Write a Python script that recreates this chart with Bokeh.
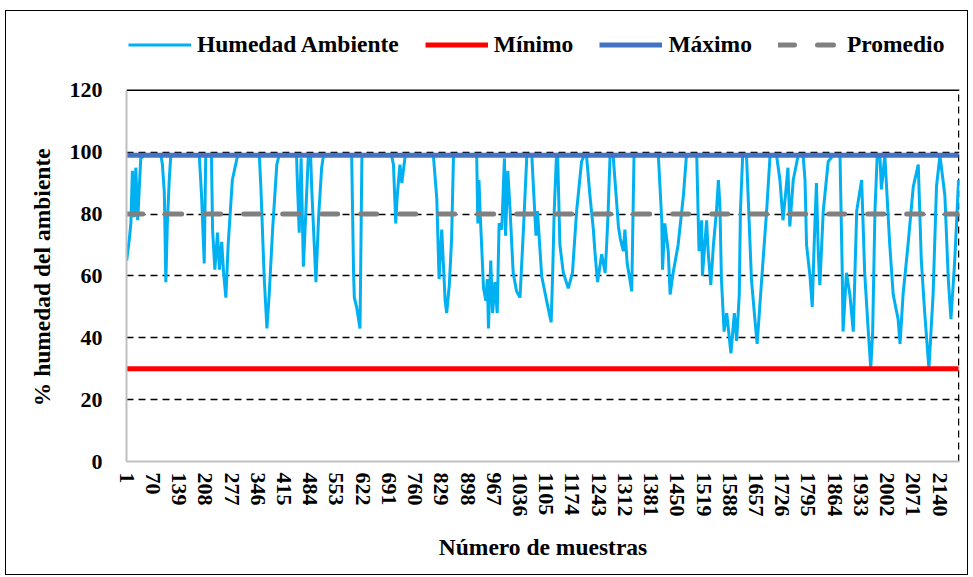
from bokeh.plotting import figure
from bokeh.models import (Range1d, FixedTicker, Span, Legend, LegendItem)
from bokeh.embed import file_html
from bokeh.resources import INLINE

# ---- data ----
n_samples = 2190
sample = [1, 8, 12, 16, 21, 25, 30, 38, 47, 91, 95, 100, 104, 108, 113, 117,
          192, 198, 205, 209, 224, 227, 233, 240, 245, 251, 256, 262, 268, 279, 293,
          350, 354, 363, 370, 376, 385, 396, 402, 448, 450, 455, 460, 466, 479, 485,
          488, 499, 506, 514, 519, 593, 598, 600, 606, 615, 620, 698, 703, 709, 713,
          720, 725, 734, 808, 817, 823, 830, 839, 843, 850, 856, 861, 922, 925, 928,
          931, 940, 946, 950, 953, 959, 964, 970, 976, 981, 988, 995, 998, 1004, 1010,
          1018, 1027, 1036, 1045, 1054, 1067, 1078, 1082, 1093, 1106, 1118, 1122, 1126,
          1132, 1135, 1141, 1150, 1163, 1174, 1185, 1198, 1205, 1211, 1220, 1229, 1233,
          1240, 1251, 1260, 1264, 1268, 1273, 1281, 1295, 1300, 1308, 1312, 1318, 1325,
          1330, 1336, 1400, 1409, 1411, 1417, 1426, 1431, 1439, 1452, 1466, 1474, 1501,
          1507, 1514, 1516, 1527, 1531, 1538, 1545, 1553, 1558, 1562, 1566, 1573, 1580,
          1591, 1600, 1606, 1613, 1616, 1622, 1632, 1645, 1654, 1660, 1672, 1685, 1694,
          1711, 1720, 1728, 1736, 1741, 1746, 1755, 1768, 1781, 1786, 1790, 1799, 1805,
          1810, 1816, 1821, 1825, 1834, 1847, 1860, 1878, 1884, 1886, 1895, 1904, 1913,
          1922, 1935, 1943, 1952, 1959, 1964, 1970, 1976, 1983, 1987, 1996, 2009, 2018,
          2031, 2036, 2044, 2057, 2071, 2084, 2092, 2101, 2112, 2123, 2132, 2141, 2154,
          2163, 2170, 2180, 2190]
humedad = [65, 72, 77, 94, 79, 95, 78, 98, 99, 99, 96, 87, 58, 77, 91, 99,
           99, 86, 64, 99, 99, 75, 62, 74, 62, 71, 61, 53, 70, 91, 99,
           99, 89, 59, 43, 54, 75, 96, 99, 99, 91, 74, 98, 63, 99, 99,
           88, 58, 79, 95, 99, 99, 61, 53, 50, 43, 99, 99, 96, 77, 86,
           96, 90, 99, 99, 85, 59, 75, 52, 48, 57, 72, 99, 99, 77, 91,
           81, 56, 52, 59, 43, 65, 48, 58, 48, 77, 75, 98, 73, 94, 81,
           61, 55, 53, 75, 99, 99, 73, 81, 60, 52, 45, 61, 81,
           99, 99, 70, 61, 56, 61, 81, 97, 99, 99, 86, 75, 68,
           58, 67, 61, 70, 81, 99, 99, 76, 72, 68, 75, 64, 59,
           55, 99, 99, 78, 62, 77, 68, 54, 61, 70, 86, 99, 99,
           68, 78, 60, 78, 68, 57, 70, 81, 91, 83, 59, 42, 48,
           35, 48, 39, 54, 81, 99, 99, 59, 46, 38, 59, 81, 99,
           99, 91, 78, 88, 95, 76, 91, 99, 99, 91, 70, 60, 50,
           70, 90, 67, 57, 81, 97, 99, 99, 61, 42, 61, 54, 42,
           81, 91, 61, 43, 30, 42, 81, 99, 99, 88, 99, 70, 54,
           46, 38, 54, 70, 89, 96, 65, 48, 30, 54, 89, 99, 86,
           59, 46, 65, 91]
minimo = 30
maximo = 99
promedio = 80
y_ticks = [0, 20, 40, 60, 80, 100, 120]
x_tick_labels = [1, 70, 139, 208, 277, 346, 415, 484, 553, 622, 691, 760, 829, 898,
                 967, 1036, 1105, 1174, 1243, 1312, 1381, 1450, 1519, 1588, 1657,
                 1726, 1795, 1864, 1933, 2002, 2071, 2140]

FONT = "Liberation Serif"
Y_TOP = 140  # extra room above 120 holds the legend inside the frame
NBSP = "\u00a0"

p = figure(width=963, height=565, output_backend="svg", toolbar_location=None,
           x_range=Range1d(0.5, n_samples + 2.5), y_range=Range1d(0, Y_TOP),
           min_border_left=120, min_border_right=10, min_border_top=17,
           min_border_bottom=115)
p.styles = {"border": "1px solid black", "margin-left": "5px", "margin-top": "10px"}
p.outline_line_color = None
p.background_fill_color = "white"
p.border_fill_color = "white"

y_lo, y_hi = y_ticks[0], y_ticks[-1]

# grid
p.xgrid.grid_line_color = None
p.ygrid.ticker = FixedTicker(ticks=y_ticks[1:-1])
p.ygrid.grid_line_color = "black"
p.ygrid.grid_line_width = 1.5
p.ygrid.grid_line_dash = "7 5"

# plot-area border: solid top at 120, dashed right edge from 0 to 120
p.add_layout(Span(location=y_hi, dimension="width", line_color="black",
                  line_width=1.5))
p.segment(x0=[n_samples + 0.5], y0=[y_lo], x1=[n_samples + 0.5], y1=[y_hi],
          line_color="black", line_width=1.5, line_dash="7 5")

# axes
p.yaxis.ticker = FixedTicker(ticks=y_ticks)
p.yaxis.bounds = (y_lo, y_hi)
p.xaxis.ticker = FixedTicker(ticks=x_tick_labels)
for ax in (p.xaxis[0], p.yaxis[0]):
    ax.axis_line_color = "#BFBFBF"
    ax.axis_line_width = 2
    ax.major_tick_line_color = None
    ax.minor_tick_line_color = None
    ax.major_label_text_font = FONT
    ax.major_label_text_font_style = "bold"
    ax.major_label_text_font_size = "22px"
    ax.major_label_text_color = "black"
    ax.axis_label_text_font = FONT
    ax.axis_label_text_font_style = "bold"
    ax.axis_label_text_font_size = "23.5px"
    ax.axis_label_text_color = "black"

p.xaxis.major_label_orientation = "vertical"
p.xaxis.major_label_standoff = 5
p.xaxis.axis_label = "Número de muestras"
p.xaxis.axis_label_standoff = 14
p.yaxis.major_label_standoff = 18
# trailing non-breaking spaces centre the title on the 0-120 span, as in the reference
p.yaxis.axis_label = "% humedad del ambiente" + NBSP * 11
p.yaxis.axis_label_standoff = 12

# series
r_hum = p.line(sample, humedad, line_color="#00B0F0", line_width=3)
x_ends = [sample[0], sample[-1]]
r_min = p.line(x_ends, [minimo, minimo], line_color="#FF0000", line_width=5)
r_max = p.line(x_ends, [maximo, maximo], line_color="#4472C4", line_width=5)
r_avg = p.line(x_ends, [promedio, promedio], line_color="#808080", line_width=5,
               line_dash="16 23", line_cap="round")

legend = Legend(items=[LegendItem(label="Humedad Ambiente", renderers=[r_hum]),
                       LegendItem(label="Mínimo", renderers=[r_min]),
                       LegendItem(label="Máximo", renderers=[r_max]),
                       LegendItem(label="Promedio", renderers=[r_avg])],
                orientation="horizontal", location=(2, 401),
                label_text_font=FONT, label_text_font_style="bold",
                label_text_font_size="23.5px", label_text_color="black",
                glyph_width=63, glyph_height=31,
                label_standoff=6, spacing=26, padding=0, margin=0,
                background_fill_alpha=0, border_line_color=None)
p.add_layout(legend, "center")

open("out.html", "w").write(file_html(p, INLINE))
